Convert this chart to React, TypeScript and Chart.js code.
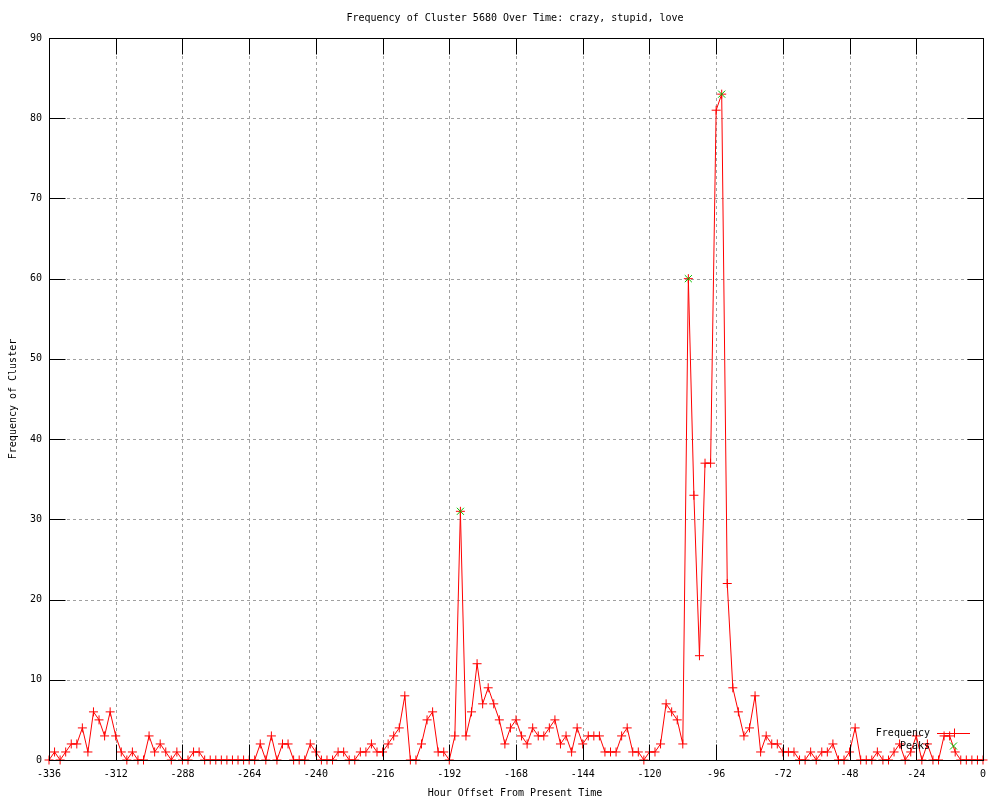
import React, { useEffect, useRef } from "react";
import { Chart, registerables } from "chart.js";

Chart.register(...registerables);

// Hour offsets (x categories), every 2 hours
const hourOffsets: number[] = [
  -336, -334, -332, -330, -328, -326, -324, -322, -320, -318, -316, -314,
  -312, -310, -308, -306, -304, -302, -300, -298, -296, -294, -292, -290,
  -288, -286, -284, -282, -280, -278, -276, -274, -272, -270, -268, -266,
  -264, -262, -260, -258, -256, -254, -252, -250, -248, -246, -244, -242,
  -240, -238, -236, -234, -232, -230, -228, -226, -224, -222, -220, -218,
  -216, -214, -212, -210, -208, -206, -204, -202, -200, -198, -196, -194,
  -192, -190, -188, -186, -184, -182, -180, -178, -176, -174, -172, -170,
  -168, -166, -164, -162, -160, -158, -156, -154, -152, -150, -148, -146,
  -144, -142, -140, -138, -136, -134, -132, -130, -128, -126, -124, -122,
  -120, -118, -116, -114, -112, -110, -108, -106, -104, -102, -100, -98,
  -96, -94, -92, -90, -88, -86, -84, -82, -80, -78, -76, -74,
  -72, -70, -68, -66, -64, -62, -60, -58, -56, -54, -52, -50,
  -48, -46, -44, -42, -40, -38, -36, -34, -32, -30, -28, -26,
  -24, -22, -20, -18, -16, -14, -12, -10, -8, -6, -4, -2,
  0,
];

// Frequency values
const frequency: number[] = [
  0, 1, 0, 1, 2, 2, 4, 1, 6, 5, 3, 6,
  3, 1, 0, 1, 0, 0, 3, 1, 2, 1, 0, 1,
  0, 0, 1, 1, 0, 0, 0, 0, 0, 0, 0, 0,
  0, 0, 2, 0, 3, 0, 2, 2, 0, 0, 0, 2,
  1, 0, 0, 0, 1, 1, 0, 0, 1, 1, 2, 1,
  1, 2, 3, 4, 8, 0, 0, 2, 5, 6, 1, 1,
  0, 3, 31, 3, 6, 12, 7, 9, 7, 5, 2, 4,
  5, 3, 2, 4, 3, 3, 4, 5, 2, 3, 1, 4,
  2, 3, 3, 3, 1, 1, 1, 3, 4, 1, 1, 0,
  1, 1, 2, 7, 6, 5, 2, 60, 33, 13, 37, 37,
  81, 83, 22, 9, 6, 3, 4, 8, 1, 3, 2, 2,
  1, 1, 1, 0, 0, 1, 0, 1, 1, 2, 0, 0,
  1, 4, 0, 0, 0, 1, 0, 0, 1, 2, 0, 1,
  3, 0, 2, 0, 0, 3, 3, 1, 0, 0, 0, 0,
  0,
];

const peakHours: number[] = [-188, -106, -94];
const peakValues: number[] = [31, 60, 83];

const xTicks: number[] = [-336, -312, -288, -264, -240, -216, -192, -168, -144, -120, -96, -72, -48, -24, 0];
const yTicks: number[] = [0, 10, 20, 30, 40, 50, 60, 70, 80, 90];

const titleText = "Frequency of Cluster 5680 Over Time: crazy, stupid, love";
const xLabelText = "Hour Offset From Present Time";
const yLabelText = "Frequency of Cluster";
const seriesLabels: string[] = ["Frequency", "Peaks"];

const RED = "#ff0000";
const GREEN = "#00c000";
const FONT = '10px "DejaVu Sans Mono", monospace';
const TICK_LEN = 16;

const gnuplotFrame = {
  id: "gnuplotFrame",
  beforeDatasetsDraw(chart: any) {
    const { ctx, chartArea: a, scales } = chart;
    const xs = scales.x;
    const ys = scales.y;
    ctx.save();
    ctx.strokeStyle = "#a0a0a0";
    ctx.lineWidth = 1;
    ctx.setLineDash([3, 3]);
    xTicks.forEach((v, i) => {
      if (i === 0 || i === xTicks.length - 1) return;
      const px = Math.round(xs.getPixelForValue(v)) + 0.5;
      ctx.beginPath();
      ctx.moveTo(px, a.top);
      ctx.lineTo(px, a.bottom);
      ctx.stroke();
    });
    yTicks.forEach((v, i) => {
      if (i === 0 || i === yTicks.length - 1) return;
      const py = Math.round(ys.getPixelForValue(v)) + 0.5;
      ctx.beginPath();
      ctx.moveTo(a.left, py);
      ctx.lineTo(a.right, py);
      ctx.stroke();
    });
    ctx.restore();
  },
  afterDatasetsDraw(chart: any) {
    const { ctx, chartArea: a, scales } = chart;
    const xs = scales.x;
    const ys = scales.y;
    const L = Math.round(a.left) + 0.5;
    const R = Math.round(a.right) + 0.5;
    const T = Math.round(a.top) + 0.5;
    const B = Math.round(a.bottom) + 0.5;
    ctx.save();
    ctx.setLineDash([]);
    ctx.strokeStyle = "#000";
    ctx.lineWidth = 1;
    ctx.strokeRect(L, T, R - L, B - T);

    // inward ticks, mirrored
    xTicks.forEach((v) => {
      const px = Math.round(xs.getPixelForValue(v)) + 0.5;
      ctx.beginPath();
      ctx.moveTo(px, B);
      ctx.lineTo(px, B - TICK_LEN);
      ctx.moveTo(px, T);
      ctx.lineTo(px, T + TICK_LEN);
      ctx.stroke();
    });
    yTicks.forEach((v) => {
      const py = Math.round(ys.getPixelForValue(v)) + 0.5;
      ctx.beginPath();
      ctx.moveTo(L, py);
      ctx.lineTo(L + TICK_LEN, py);
      ctx.moveTo(R, py);
      ctx.lineTo(R - TICK_LEN, py);
      ctx.stroke();
    });

    ctx.fillStyle = "#000";
    ctx.font = FONT;
    ctx.textBaseline = "middle";

    // x tick labels
    ctx.textAlign = "center";
    xTicks.forEach((v) => {
      ctx.fillText(String(v), xs.getPixelForValue(v), a.bottom + 14);
    });
    // y tick labels
    ctx.textAlign = "right";
    yTicks.forEach((v) => {
      ctx.fillText(String(v), a.left - 7, ys.getPixelForValue(v));
    });

    // title and axis labels
    const cx = (a.left + a.right) / 2;
    ctx.textAlign = "center";
    ctx.fillText(titleText, cx - 1, 18);
    ctx.fillText(xLabelText, cx - 1, a.bottom + 33);
    ctx.save();
    ctx.translate(13, (a.top + a.bottom) / 2);
    ctx.rotate(-Math.PI / 2);
    ctx.fillText(yLabelText, 0, 0);
    ctx.restore();

    // legend (gnuplot style, bottom right inside)
    const textRight = a.right - 53;
    const sampleL = a.right - 46;
    const sampleR = a.right - 13;
    const sampleC = (sampleL + sampleR) / 2;
    const y1 = a.bottom - 27;
    const y2 = a.bottom - 14;
    ctx.textAlign = "right";
    ctx.fillStyle = "#000";
    ctx.fillText(seriesLabels[0], textRight, y1);
    ctx.fillText(seriesLabels[1], textRight, y2);

    ctx.strokeStyle = RED;
    ctx.beginPath();
    ctx.moveTo(sampleL, Math.round(y1) + 0.5);
    ctx.lineTo(sampleR, Math.round(y1) + 0.5);
    ctx.moveTo(Math.round(sampleC) + 0.5, y1 - 4.5);
    ctx.lineTo(Math.round(sampleC) + 0.5, y1 + 4.5);
    ctx.stroke();

    ctx.strokeStyle = GREEN;
    const d = 3.5;
    ctx.beginPath();
    ctx.moveTo(sampleC - d, y2 - d);
    ctx.lineTo(sampleC + d, y2 + d);
    ctx.moveTo(sampleC - d, y2 + d);
    ctx.lineTo(sampleC + d, y2 - d);
    ctx.stroke();

    ctx.restore();
  },
};

export default function App() {
  const canvasRef = useRef<HTMLCanvasElement | null>(null);

  useEffect(() => {
    const canvas = canvasRef.current;
    if (!canvas) return;
    const freqPoints = hourOffsets.map((h, i) => ({ x: h, y: frequency[i] }));
    const peakPoints = peakHours.map((h, i) => ({ x: h, y: peakValues[i] }));
    const chart = new Chart(canvas, {
      type: "line",
      data: {
        datasets: [
          {
            label: seriesLabels[0],
            data: freqPoints,
            borderColor: RED,
            backgroundColor: RED,
            borderWidth: 1,
            pointStyle: "cross",
            pointRadius: 4.5,
            pointBorderWidth: 1,
            pointBorderColor: RED,
            tension: 0,
            fill: false,
            clip: false,
            order: 1,
          } as any,
          {
            label: seriesLabels[1],
            data: peakPoints,
            showLine: false,
            borderColor: GREEN,
            backgroundColor: GREEN,
            pointStyle: "crossRot",
            pointRadius: 5,
            pointBorderWidth: 1,
            pointBorderColor: GREEN,
            clip: false,
            order: 0,
          } as any,
        ],
      },
      options: {
        animation: false,
        responsive: false,
        maintainAspectRatio: false,
        devicePixelRatio: 1,
        layout: { padding: { left: 49, right: 17, top: 38, bottom: 40 } },
        scales: {
          x: { type: "linear", min: -336, max: 0, display: false },
          y: { type: "linear", min: 0, max: 90, display: false },
        },
        plugins: {
          legend: { display: false },
          title: { display: false },
          tooltip: { enabled: false },
        },
        events: [],
      },
      plugins: [gnuplotFrame],
    });
    return () => chart.destroy();
  }, []);

  return (
    <div style={{ position: "absolute", left: 0, top: 0, width: 1000, height: 800, background: "#fff" }}>
      <canvas ref={canvasRef} width={1000} height={800} style={{ width: 1000, height: 800 }} />
    </div>
  );
}
